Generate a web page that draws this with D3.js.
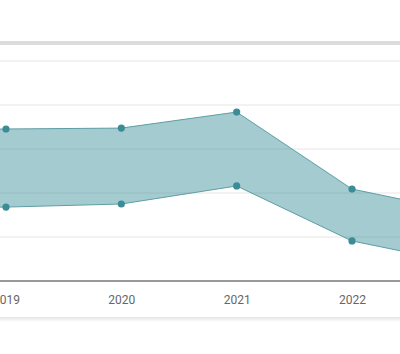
<!DOCTYPE html>
<html>
<head>
<meta charset="utf-8">
<script src="https://cdn.jsdelivr.net/npm/d3@7"></script>
<style>
  body { margin: 0; background: #fff; }
</style>
</head>
<body>
<div id="chart"></div>
<script>
const w = 400;
const h = 354;

// data (chart is cropped: 2018 and 2023 lie outside the view)
const years = [2018, 2019, 2020, 2021, 2022, 2023];
const highValues = [68.2, 69.1, 69.5, 76.8, 41.8, 30.9];
const lowValues = [33.2, 33.6, 35.0, 43.2, 18.2, 7.5];
const yTicks = [0, 20, 40, 60, 80, 100];
const xLabels = [2019, 2020, 2021, 2022];

const data = years.map((y, i) => ({ year: y, high: highValues[i], low: lowValues[i] }));

const xScale = d3.scaleLinear()
  .domain([2019, 2022])
  .range([6, 352]);
const yScale = d3.scaleLinear()
  .domain([0, 100])
  .range([281, 61]);

const svg = d3.select('#chart')
  .append('svg')
  .attr('width', w)
  .attr('height', h);

const defs = svg.append('defs');
const shadow = defs.append('linearGradient')
  .attr('id', 'shadow')
  .attr('x1', 0).attr('y1', 0).attr('x2', 0).attr('y2', 1);
shadow.append('stop').attr('offset', '0%').attr('stop-color', '#e4e4e4');
shadow.append('stop').attr('offset', '100%').attr('stop-color', '#fff');

// card top border
svg.append('rect')
  .attr('x', 0).attr('y', 41)
  .attr('width', w).attr('height', 4)
  .attr('fill', '#dcdcdc');

// card bottom shadow
svg.append('rect')
  .attr('x', 0).attr('y', 317)
  .attr('width', w).attr('height', 5)
  .attr('fill', 'url(#shadow)');

// gridlines
svg.append('g')
  .selectAll('line')
  .data(yTicks.slice(1))
  .enter()
  .append('line')
  .attr('x1', 0)
  .attr('x2', w)
  .attr('y1', (d) => yScale(d))
  .attr('y2', (d) => yScale(d))
  .attr('stroke', '#e6e6e6')
  .attr('stroke-width', 1);

// range area
svg.append('path')
  .datum(data)
  .attr('fill', '#2f8a94')
  .attr('fill-opacity', 0.44)
  .attr('d', d3.area()
    .x((d) => xScale(d.year))
    .y0((d) => yScale(d.low))
    .y1((d) => yScale(d.high)));

svg.append('path')
  .datum(data)
  .attr('fill', 'none')
  .attr('stroke', '#5f9da4')
  .attr('stroke-width', 1)
  .attr('d', d3.line()
    .x((d) => xScale(d.year))
    .y((d) => yScale(d.high)));

svg.append('path')
  .datum(data)
  .attr('fill', 'none')
  .attr('stroke', '#5f9da4')
  .attr('stroke-width', 1)
  .attr('d', d3.line()
    .x((d) => xScale(d.year))
    .y((d) => yScale(d.low)));

// points
['high', 'low'].forEach((key) => {
  svg.selectAll('circle_' + key)
    .data(data)
    .enter()
    .append('circle')
    .attr('cx', (d) => xScale(d.year))
    .attr('cy', (d) => yScale(d[key]))
    .attr('r', 3.6)
    .attr('fill', '#3b8c95');
});

// x-axis
const xAxis = svg.append('g')
  .attr('transform', 'translate(0,' + yScale(0) + ')')
  .call(d3.axisBottom(xScale)
    .tickValues(xLabels)
    .tickFormat(d3.format('d'))
    .tickSize(0)
    .tickPadding(14));

xAxis.select('.domain').remove();
xAxis.append('line')
  .attr('x1', 0).attr('x2', w)
  .attr('stroke', '#777')
  .attr('stroke-width', 1.5);

xAxis.selectAll('text')
  .style('font-family', 'Roboto, sans-serif')
  .style('font-size', '12px')
  .attr('fill', '#666');
</script>
</body>
</html>
